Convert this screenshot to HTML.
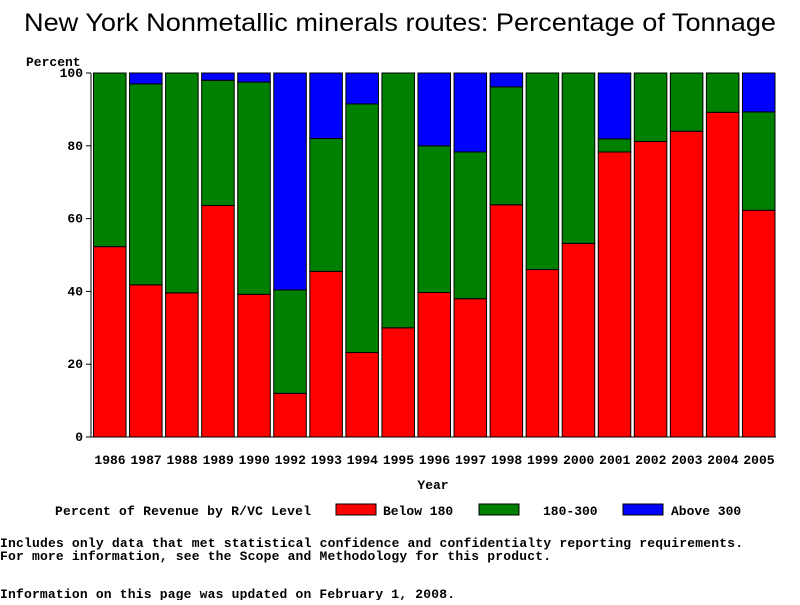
<!DOCTYPE html>
<html><head><meta charset="utf-8"><style>
body{margin:0;background:#fff;width:800px;height:600px;overflow:hidden}
svg text{font-family:"Liberation Mono",monospace;font-size:13px;font-weight:bold;fill:#000}
</style></head><body>
<svg width="800" height="600">
<text x="24" y="31" textLength="752" lengthAdjust="spacingAndGlyphs" style="font-family:'Liberation Sans',sans-serif;font-size:25px;font-weight:normal">New York Nonmetallic minerals routes: Percentage of Tonnage</text>
<text x="26" y="66">Percent</text>
<g id="plot"></g>
<text x="433" y="489" text-anchor="middle">Year</text>
<g>
<text x="55" y="515" textLength="256">Percent of Revenue by R/VC Level</text>
<rect x="336" y="504" width="40" height="11" fill="#f00" stroke="#000"/>
<text x="383" y="515">Below 180</text>
<rect x="479" y="504" width="40" height="11" fill="#008000" stroke="#000"/>
<text x="543" y="515">180-300</text>
<rect x="623" y="504" width="40" height="11" fill="#00f" stroke="#000"/>
<text x="671" y="515">Above 300</text>
</g>
<text x="0" y="547" textLength="743">Includes only data that met statistical confidence and confidentialty reporting requirements.</text>
<text x="0" y="560" textLength="551">For more information, see the Scope and Methodology for this product.</text>
<text x="0" y="598" textLength="455">Information on this page was updated on February 1, 2008.</text>
</svg>
<script>
const years=["1986","1987","1988","1989","1990","1992","1993","1994","1995","1996","1997","1998","1999","2000","2001","2002","2003","2004","2005"];
const below180=[52.3,41.8,39.6,63.6,39.2,12,45.5,23.2,30,39.7,38,63.8,46,53.2,78.3,81.2,84,89.2,62.3];
const mid180to300=[47.7,55.2,60.4,34.4,58.3,28.4,36.5,68.3,70,40.3,40.3,32.4,54,46.8,3.6,18.8,16,10.8,27];
const above300=[0,3,0,2,2.5,59.6,18,8.5,0,20,21.7,3.8,0,0,18.1,0,0,0,10.7];
const yTicks=[0,20,40,60,80,100];
const L=91,R=776,T=73,B=437,ns="http://www.w3.org/2000/svg";
const g=document.getElementById('plot');
const bw=(R-L)/years.length;
const y=v=>B-(B-T)*v/100;
const x=i=>L+i*bw;
function mk(t,a){const e=document.createElementNS(ns,t);for(const k in a)e.setAttribute(k,a[k]);g.appendChild(e);return e;}
years.forEach((yr,i)=>{
 let base=0;
 [[below180,'#f00','below-180'],[mid180to300,'#008000','180-300'],[above300,'#00f','above-300']].forEach(([arr,c,n])=>{
  const v=arr[i];
  if(v>0){const r=mk('rect',{x:x(i)+2.5,y:y(base+v),width:bw-3.5,height:y(base)-y(base+v),fill:c,stroke:'#000','stroke-width':1});
  
  }
  base+=v;
 });
 const t=mk('text',{x:x(i)+bw/2+1,y:464,'text-anchor':'middle'});t.textContent=yr;
 
 
});
const ax=mk('path',{d:`M${L},${T}V${B}H${R}`,fill:'none',stroke:'#000'});


yTicks.forEach(v=>{
 const tk=mk('line',{x1:L-5,x2:L,y1:y(v),y2:y(v),stroke:'#000'});
 
 
 const t=mk('text',{x:L-8,y:y(v)+4,'text-anchor':'end'});t.textContent=v;
 
 
});
</script>
</body></html>
